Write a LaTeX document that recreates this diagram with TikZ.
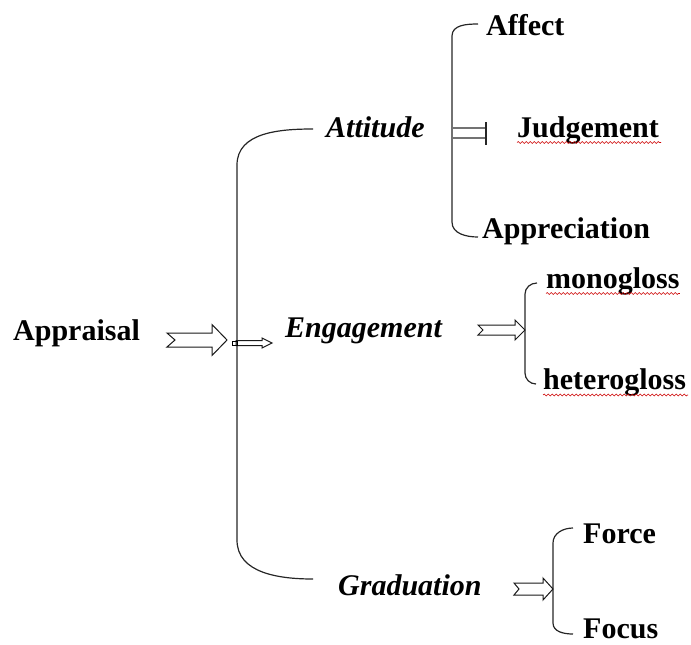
\documentclass[tikz,border=0pt]{standalone}
\usepackage{fontspec}
\setmainfont{Liberation Serif}
\usetikzlibrary{calc, decorations.pathmorphing}
\tikzset{term/.style={font=\fontsize{30}{32}\selectfont\bfseries, inner sep=0pt, anchor=base west}}
\tikzset{sys/.style={term, font=\fontsize{30}{32}\selectfont\bfseries\itshape}}
\tikzset{brace/.style={line width=1.2pt, black!85}}
\tikzset{rail/.style={line width=1.1pt, black!55}}
\tikzset{hollow/.style n args={4}{line width=1pt, black!90, line join=miter,
    to path={let \p1=(\tikztostart), \p2=(\tikztotarget) in
      (\x1,\y1+#1) -- (\x2-#3,\y1+#1) -- (\x2-#3,\y1+#2) -- (\x2,\y1)
      -- (\x2-#3,\y1-#2) -- (\x2-#3,\y1-#1) -- (\x1,\y1-#1) -- (\x1+#4,\y1) -- cycle}}}
\tikzset{typo/.style={red!80!black, line width=0.6pt, decorate, decoration={snake, amplitude=0.9pt, segment length=4pt}}}

\begin{document}
\begin{tikzpicture}[x=1pt, y=-1pt]
    \useasboundingbox (0,0) rectangle (691,645);
    \node[term] (appr) at (13,340) {Appraisal};
    \node[sys] (att) at (326,137) {Attitude};
    \node[sys] (eng) at (285,337) {Engagement};
    \node[sys] (grd) at (338,595) {Graduation};
    \node[term] (aff) at (486,35) {Affect};
    \node[term] (jdg) at (517,137) {Judgement};
    \node[term] (apc) at (482,238) {Appreciation};
    \node[term] (mono) at (546,288) {monogloss};
    \node[term] (hetero) at (543,389) {heterogloss};
    \node[term] (frc) at (583,543) {Force};
    \node[term] (fcs) at (583,638) {Focus};
    \coordinate (mtop) at (313,129);
    \coordinate (mbot) at (313,579);
    \coordinate (atop) at (478,24);
    \coordinate (abot) at (478,237);
    \coordinate (etop) at (537,283);
    \coordinate (ebot) at (536,384);
    \coordinate (gtop) at (573,528);
    \coordinate (gbot) at (573,634);
    \draw[brace] (mtop) to[out=180, in=90] (237,165) -- (237,540) to[out=-90, in=180] (mbot);
    \draw[brace] (atop) to[out=180, in=90] (452,36) -- (452,222) to[out=-90, in=180] (abot);
    \draw[brace] (etop) to[out=180, in=90] (525,294) -- (525,373) to[out=-90, in=180] (ebot);
    \draw[brace] (gtop) to[out=180, in=90] (553,543) -- (553,623) to[out=-90, in=180] (gbot);
    \draw[rail] (452,128) -- (486,128);
    \draw[rail] (452,138) -- (486,138);
    \draw[brace] (486,122) -- (486,145);
    \draw[hollow={7pt}{15.5pt}{15pt}{8pt}] (167,340) to (227,340);
    \draw[hollow={2.5pt}{5pt}{10pt}{0pt}] (236,343) to (272,343);
    \draw[line width=0.8pt] (232.5,341) rectangle (237,345);
    \draw[hollow={5pt}{10pt}{10pt}{5pt}] (478,330) to (525,330);
    \draw[hollow={6pt}{11pt}{10pt}{5pt}] (514,589) to (553,589);
    \draw[typo] ([yshift=-5.5pt]jdg.base west) -- ([yshift=-5.5pt,xshift=2pt]jdg.base east);
    \draw[typo] ([yshift=-5.5pt]mono.base west) -- ([yshift=-5.5pt]mono.base east);
    \draw[typo] ([yshift=-6pt]hetero.base west) -- ([yshift=-6pt,xshift=2pt]hetero.base east);
\end{tikzpicture}
\end{document}
